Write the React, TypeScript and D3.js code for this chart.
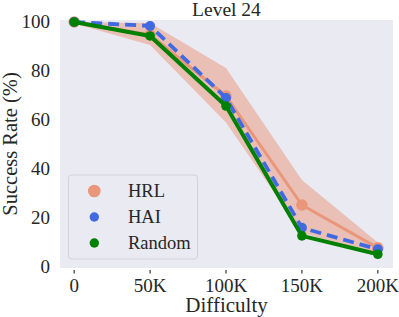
import React from 'react';
import * as d3 from 'd3';

const difficulty = [0, 50000, 100000, 150000, 200000];
const hrl = [100, 94.8, 69.8, 25.3, 7.8];
const hrlLow = [99.4, 90.6, 59, 14, 4.8];
const hrlHigh = [100, 99.6, 81.2, 35.5, 10];
const hai = [100, 98.4, 69, 16, 7.2];
const random = [100, 94.3, 65.7, 12.7, 5.2];
const yTicks = [0, 20, 40, 60, 80, 100];
const xTicks = [0, 50000, 100000, 150000, 200000];
const xTickLabels = ['0', '50K', '100K', '150K', '200K'];

const W = 399;
const H = 317;
const left = 60;
const right = 393;
const top = 20;
const bottom = 268;
const font = '"Liberation Serif", "Times New Roman", serif';

const App = () => {
  const x = d3.scaleLinear().domain([-10000, 210000]).range([59, right]);
  const y = d3.scaleLinear().domain([0, 100]).range([267, 22]);

  const line = d3
    .line<number>()
    .x((d, i) => x(difficulty[i]))
    .y(d => y(d));
  const band = d3
    .area<number>()
    .x((d, i) => x(difficulty[i]))
    .y0((d, i) => y(hrlLow[i]))
    .y1((d, i) => y(hrlHigh[i]));

  const series = [
    { name: 'HRL', values: hrl, color: '#E9967A', width: 3, r: 5.8, dash: undefined },
    { name: 'HAI', values: hai, color: '#4169E1', width: 3.8, r: 5, dash: '11,6' },
    { name: 'Random', values: random, color: '#008000', width: 4, r: 4.8, dash: undefined },
  ];

  return (
    <svg width={W} height={H} style={{ position: 'absolute', left: 0, top: 0 }}>
      <rect x={0} y={0} width={W} height={H} fill="#ffffff" />
      <rect x={left} y={top} width={right - left} height={bottom - top} fill="#EAEAF2" />

      <path d={band(hrl) as string} fill="#E9967A" fillOpacity={0.5} />

      {series.map(s => (
        <g key={s.name}>
          <path
            d={line(s.values) as string}
            fill="none"
            stroke={s.color}
            strokeWidth={s.width}
            strokeDasharray={s.dash}
            strokeLinejoin="round"
          />
          {s.values.map((v, i) => (
            <circle key={i} cx={x(difficulty[i])} cy={y(v)} r={s.r} fill={s.color} />
          ))}
        </g>
      ))}

      {/* x axis */}
      {xTicks.map((t, i) => (
        <g key={t}>
          <line x1={x(t)} x2={x(t)} y1={270} y2={273.5} stroke="#333" strokeWidth={1.2} />
          <text
            x={x(t)}
            y={292}
            textAnchor="middle"
            fontFamily={font}
            fontSize={19}
            fill="#262626">
            {xTickLabels[i]}
          </text>
        </g>
      ))}

      {/* y axis */}
      {yTicks.map(t => (
        <text
          key={t}
          x={50}
          y={y(t)}
          dy="0.34em"
          textAnchor="end"
          fontFamily={font}
          fontSize={19}
          fill="#262626">
          {t}
        </text>
      ))}

      <text x={(left + right) / 2} y={16} textAnchor="middle" fontFamily={font} fontSize={19.5} fill="#262626">
        Level 24
      </text>
      <text x={(left + right) / 2} y={312} textAnchor="middle" fontFamily={font} fontSize={21} fill="#262626">
        Difficulty
      </text>
      <text
        transform={`translate(17, ${(top + bottom) / 2}) rotate(-90)`}
        textAnchor="middle"
        fontFamily={font}
        fontSize={20.5}
        fill="#262626">
        Success Rate (%)
      </text>

      {/* legend */}
      <rect x={68.5} y={175} width={129} height={84} rx={3} fill="#EAEAF2" stroke="#D2D2D8" strokeWidth={1} />
      {series.map((s, i) => (
        <g key={s.name} transform={`translate(0, ${191 + i * 26})`}>
          <circle cx={94.3} cy={0} r={i === 0 ? 6.3 : 4.7} fill={s.color} />
          <text x={128} y={0} dy="0.34em" fontFamily={font} fontSize={18.5} fill="#262626">
            {s.name}
          </text>
        </g>
      ))}
    </svg>
  );
};

export default App;
